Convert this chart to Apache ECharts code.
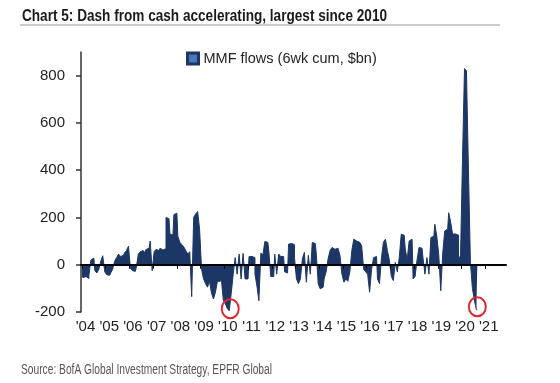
<!DOCTYPE html>
<html>
<head>
<meta charset="utf-8">
<script src="https://cdn.jsdelivr.net/npm/echarts@6/dist/echarts.min.js"></script>
<style>html,body{margin:0;padding:0;background:#fff;}#c{width:560px;height:383px;}</style>
</head>
<body>
<div id="c"></div>
<script>
// ---- data (monthly, 6wk cumulative MMF flows, $bn) ----
const flows2004 = [-45,-55,-50,-58,-45,20,28,-25,-35,-20,15,38];
const flows2005 = [-30,-42,-45,-35,-20,15,30,45,35,40,50,60];
const flows2006 = [78,-15,-25,-28,-10,45,55,60,50,65,70,100];
const flows2007 = [-25,55,65,60,70,62,68,200,195,130,125,212];
const flows2008 = [218,120,95,85,75,60,45,55,-135,200,215,225];
const flows2009 = [150,-20,-60,-80,-95,-70,-120,-145,-117,-70,-70,-60];
const flows2010 = [-150,-165,-185,-195,-120,-40,30,-40,45,-60,48,-60];
const flows2011 = [-60,35,35,30,-40,-90,-152,50,40,98,95,60];
const flows2012 = [-50,-50,45,-40,45,35,35,-30,-35,87,90,85];
const flows2013 = [30,-60,-80,-60,25,52,-74,40,-40,94,90,50];
const flows2014 = [-80,-102,-95,-60,-30,25,60,73,65,70,73,40];
const flows2015 = [-40,-74,-60,-70,-30,60,108,100,95,90,80,-20];
const flows2016 = [-30,-40,-116,-20,30,35,-60,-80,30,95,108,60];
const flows2017 = [20,-50,-67,10,-30,30,129,125,70,20,100,108];
const flows2018 = [-60,-50,20,73,70,30,-40,30,-40,115,120,171];
const flows2019 = [120,40,-110,50,143,150,220,180,130,130,125,20];
const flows2020 = [40,450,830,820,400,10,-100,-150,-190];

const startYear = 2004;
const monthCount = 215; // Jan 2004 .. Nov 2021 (axis extent)
const yearLabels = ["'04","'05","'06","'07","'08","'09","'10","'11","'12","'13","'14","'15","'16","'17","'18","'19","'20","'21"];
const yTicks = [-200, 0, 200, 400, 600, 800];
const circledPoints = [['2010-04', -186], ['2020-09', -178]];

const titleText = 'Chart 5: Dash from cash accelerating, largest since 2010';
const seriesName = 'MMF flows (6wk cum, $bn)';
const sourceText = 'Source: BofA Global Investment Strategy, EPFR Global';

// ---- build ----
const categories = [];
for (let i = 0; i < monthCount; i++) {
  const y = startYear + Math.floor(i / 12);
  const m = (i % 12) + 1;
  categories.push(y + '-' + (m < 10 ? '0' + m : m));
}
const values = [].concat(flows2004, flows2005, flows2006, flows2007, flows2008, flows2009,
  flows2010, flows2011, flows2012, flows2013, flows2014, flows2015, flows2016, flows2017,
  flows2018, flows2019, flows2020);

function fitScale(text, font, target) {
  const ctx = document.createElement('canvas').getContext('2d');
  ctx.font = font;
  return target / ctx.measureText(text).width;
}
const titleFont = 'bold 17px "Liberation Sans", Arial, sans-serif';
const sourceFont = '14px "Liberation Sans", Arial, sans-serif';
const barColor = '#1c3766';

const chart = echarts.init(document.getElementById('c'), null, { renderer: 'canvas' });
chart.setOption({
  animation: false,
  backgroundColor: '#ffffff',
  grid: { left: 81, right: 54, top: 52, bottom: 71, containLabel: false },
  legend: {
    left: 181, top: 46,
    icon: 'rect',
    itemWidth: 11, itemHeight: 11,
    itemStyle: { color: '#4a78b5', borderColor: barColor, borderWidth: 3 },
    textStyle: { fontFamily: 'Liberation Sans, Arial, sans-serif', fontSize: 14.5, color: '#222' },
    data: [seriesName]
  },
  xAxis: {
    type: 'category',
    data: categories,
    z: 10,
    axisLine: { onZero: true, lineStyle: { color: '#000', width: 2 } },
    axisTick: { show: true, alignWithLabel: true, length: 4, interval: (i) => i % 12 === 0, lineStyle: { color: '#000', width: 1 } },
    axisLabel: {
      interval: (i) => i % 12 === 0,
      formatter: (v, i) => yearLabels[Math.floor(i / 12)],
      margin: 7,
      padding: [0, 0, 0, 7],
      fontFamily: 'Liberation Sans, Arial, sans-serif', fontSize: 15, color: '#222'
    },
    splitLine: { show: false }
  },
  yAxis: {
    type: 'value',
    min: -200, max: 900, interval: 200,
    axisLine: { show: true, lineStyle: { color: '#333', width: 1.5 } },
    axisTick: { show: true, length: 5, customValues: yTicks, lineStyle: { color: '#333', width: 1.5 } },
    axisLabel: { customValues: yTicks, margin: 16, fontFamily: 'Liberation Sans, Arial, sans-serif', fontSize: 15, color: '#222' },
    splitLine: { show: false }
  },
  series: [{
    name: seriesName,
    type: 'line',
    step: 'middle',
    data: values,
    symbol: 'none',
    lineStyle: { color: barColor, width: 1 },
    itemStyle: { color: barColor },
    areaStyle: { color: barColor, opacity: 1, origin: 0 },
    markPoint: {
      symbol: 'circle',
      symbolSize: [17, 19],
      label: { show: false },
      itemStyle: { color: 'rgba(0,0,0,0)', borderColor: '#e0262b', borderWidth: 2 },
      data: circledPoints.map(p => ({ coord: p }))
    }
  }],
  graphic: [
    { type: 'text', x: 22, y: 16, scaleX: fitScale(titleText, titleFont, 365),
      style: { text: titleText, font: titleFont, fill: '#1a1a1a', textVerticalAlign: 'middle' } },
    { type: 'line', shape: { x1: 20, y1: 25, x2: 500, y2: 25 }, style: { stroke: '#9a9a9a', lineWidth: 1 } },
    { type: 'text', x: 21, y: 370, scaleX: fitScale(sourceText, sourceFont, 251),
      style: { text: sourceText, font: sourceFont, fill: '#555', textVerticalAlign: 'middle' } }
  ]
});
</script>
</body>
</html>
